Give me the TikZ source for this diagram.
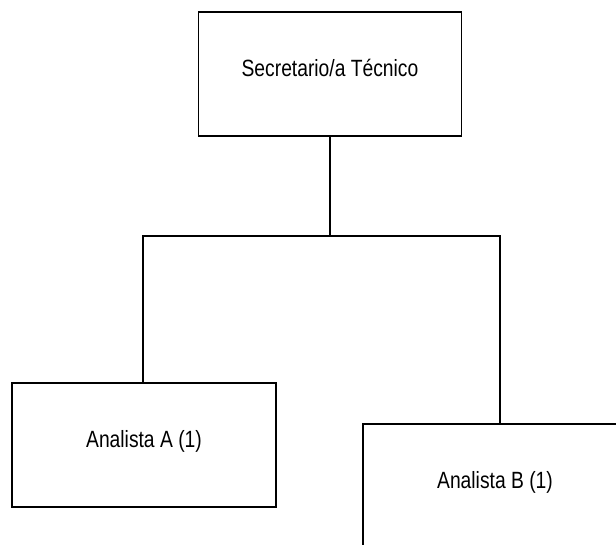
\documentclass[tikz,border=0pt]{standalone}
\usepackage{fontspec}
\setmainfont{Liberation Sans}[FakeStretch=0.82]
\begin{document}
\begin{tikzpicture}[x=1pt,y=1pt,
  box/.style={draw=black, line width=1.8pt, fill=white, minimum width=264pt, minimum height=124pt,
    inner sep=0pt, text height=17pt, text depth=12pt, font=\fontsize{23.5}{28}\selectfont},
  conn/.style={draw=black, line width=1.8pt}]
\useasboundingbox (0,0) rectangle (616,-544);
\node[box, minimum width=263pt] (sec) at (330,-74) {Secretario/a Técnico};
\node[box] (ana) at (144,-445) {Analista A (1)};
\node[box] (anb) at (495,-486) {Analista B (1)};
\coordinate (bus) at (331,-236);
\draw[conn] (sec.south) -- (sec.south |- bus);
\draw[conn] ([xshift=-1pt]ana.north) -- ([xshift=-1pt]ana.north |- bus) -| ([xshift=5pt]anb.north);
\end{tikzpicture}
\end{document}
